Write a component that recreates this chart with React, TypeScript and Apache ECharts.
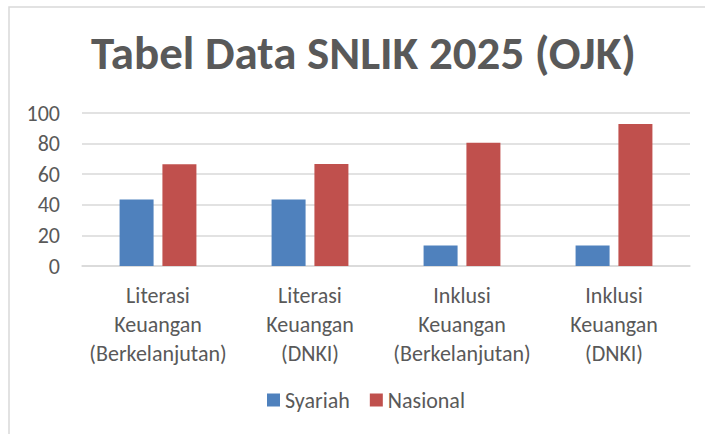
import React, { useEffect, useRef } from "react";
import * as echarts from "echarts";

const categories = [
  "Literasi\nKeuangan\n(Berkelanjutan)",
  "Literasi\nKeuangan\n(DNKI)",
  "Inklusi\nKeuangan\n(Berkelanjutan)",
  "Inklusi\nKeuangan\n(DNKI)",
];
const syariah = [43.42, 43.42, 13.41, 13.41];
const nasional = [66.46, 66.64, 80.51, 92.74];
const yTicks = { min: 0, max: 100, interval: 20 };

const FONT = "Carlito, Calibri, 'Open Sans', sans-serif";
const TEXT = "#595959";

export default function App() {
  const ref = useRef<HTMLDivElement>(null);
  useEffect(() => {
    if (!ref.current) return;
    const chart = echarts.init(ref.current, null, { renderer: "svg" });
    chart.setOption({
      animation: false,
      backgroundColor: "#ffffff",
      title: {
        text: "Tabel Data SNLIK 2025 (OJK)",
        left: 86,
        top: 24,
        textStyle: { fontFamily: FONT, fontWeight: "bold", fontSize: 47, color: TEXT },
      },
      graphic: [
        {
          type: "rect",
          shape: { x: 9, y: 7, width: 800, height: 600 },
          style: { fill: "none", stroke: "#d9d9d9", lineWidth: 1.5 },
          silent: true,
        },
      ],
      legend: {
        bottom: 18,
        left: 262,
        itemWidth: 13,
        itemHeight: 13,
        itemGap: 20,
        icon: "rect",
        textStyle: { fontFamily: FONT, fontSize: 22, color: TEXT },
        data: ["Syariah", "Nasional"],
      },
      grid: { left: 82, right: 15, top: 113, height: 153 },
      xAxis: {
        type: "category",
        data: categories,
        axisLine: { lineStyle: { color: "#d9d9d9", width: 1.5 } },
        axisTick: { show: false },
        axisLabel: {
          interval: 0,
          fontFamily: FONT,
          fontSize: 22,
          color: TEXT,
          lineHeight: 29,
          margin: 15,
        },
      },
      yAxis: {
        type: "value",
        min: yTicks.min,
        max: yTicks.max,
        interval: yTicks.interval,
        axisLine: { show: false },
        axisTick: { show: false },
        splitLine: { lineStyle: { color: "#d9d9d9", width: 1.5 } },
        axisLabel: { fontFamily: FONT, fontSize: 22, color: TEXT, margin: 22 },
      },
      series: [
        {
          name: "Syariah",
          type: "bar",
          data: syariah,
          barWidth: 34,
          barGap: "26%",
          itemStyle: { color: "#4F81BD" },
        },
        {
          name: "Nasional",
          type: "bar",
          data: nasional,
          barWidth: 34,
          itemStyle: { color: "#C0504D" },
        },
      ],
    });
    return () => chart.dispose();
  }, []);
  return (
    <div
      ref={ref}
      style={{ position: "fixed", left: 0, top: 0, width: 705, height: 434 }}
    />
  );
}
